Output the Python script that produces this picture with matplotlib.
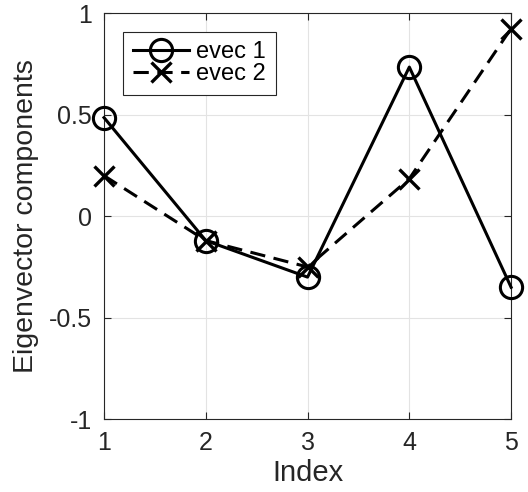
import matplotlib

matplotlib.use("Agg")
import matplotlib.pyplot as plt

plt.rcParams["font.family"] = ["Liberation Sans", "DejaVu Sans"]

# --- Eigenvector components ---------------------------------------------------
index = [1, 2, 3, 4, 5]
evec1 = [0.486, -0.12, -0.30, 0.735, -0.35]
evec2 = [0.20, -0.12, -0.25, 0.185, 0.925]
labels = ["evec 1", "evec 2"]

fig = plt.figure(figsize=(5.28, 4.92), dpi=100)
ax = fig.add_axes([0.197, 0.148, 0.771, 0.825])

ax.plot(index, evec1, "k-", marker="o", markersize=16, markerfacecolor="none",
        markeredgewidth=2.2, linewidth=2.2, label=labels[0], clip_on=False, zorder=3)
ax.plot(index, evec2, "k--", marker="x", markersize=14, markeredgewidth=2.4,
        linewidth=2.2, dashes=(5, 2.8), label=labels[1], clip_on=False, zorder=3)

ax.set_xlim(1, 5)
ax.set_ylim(-1, 1)
ax.set_xticks(index)
ax.set_yticks([-1, -0.5, 0, 0.5, 1])
ax.set_yticklabels(["-1", "-0.5", "0", "0.5", "1"])
ax.grid(True, color="#e3e3e3", linewidth=0.8)
ax.set_axisbelow(True)
ax.tick_params(direction="in", top=True, right=True, labelsize=18,
               colors="#262626", length=5, width=0.8, pad=8.5)
for s in ax.spines.values():
    s.set_color("#262626")
    s.set_linewidth(0.8)

ax.set_xlabel("Index", fontsize=21, color="#262626", labelpad=3)
ax.set_ylabel("Eigenvector components", fontsize=20.5, color="#262626", labelpad=7)

leg = ax.legend(loc="upper left", bbox_to_anchor=(0.047, 0.954), fontsize=17,
                handlelength=2.4, handletextpad=0.3, borderpad=0.4,
                labelspacing=0.0, borderaxespad=0, fancybox=False,
                framealpha=1, edgecolor="#262626")
leg.get_frame().set_linewidth(0.8)

fig.savefig("out.png", dpi=100)
